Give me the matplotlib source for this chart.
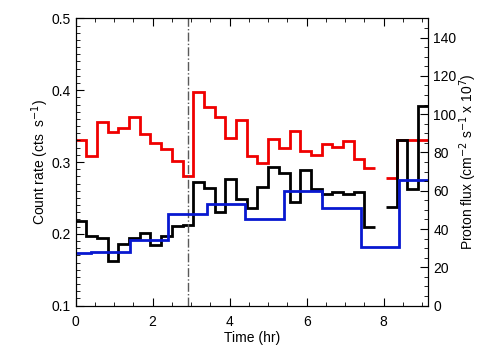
import numpy as np
import matplotlib.pyplot as plt
from matplotlib.ticker import MultipleLocator

plt.rcParams['font.family'] = ['Liberation Sans', 'DejaVu Sans']

# 1000 s bins for the count rates
bin_hr = 1000.0 / 3600.0
rate_edges = np.arange(34) * bin_hr

red_rate = [0.330, 0.308, 0.356, 0.342, 0.347, 0.363, 0.339, 0.327, 0.318, 0.301,
            0.280, 0.397, 0.376, 0.362, 0.333, 0.358, 0.308, 0.298, 0.332, 0.319,
            0.343, 0.315, 0.310, 0.325, 0.321, 0.329, 0.304, 0.291, np.nan, 0.278,
            0.330, 0.330, 0.330]

black_rate = [0.2185, 0.197, 0.1935, 0.1615, 0.1865, 0.1944, 0.2014, 0.1847, 0.1967, 0.2115,
              0.212, 0.2717, 0.2633, 0.231, 0.2768, 0.2486, 0.2365, 0.2647, 0.2925, 0.2847,
              0.2444, 0.2883, 0.262, 0.2559, 0.2578, 0.255, 0.2578, 0.2092, np.nan, 0.237,
              0.331, 0.2625, 0.378]

# hourly proton flux
flux_edges = [0.0, 0.4, 1.4, 2.4, 3.4, 4.4, 5.4, 6.4, 7.4, 8.4, 9.16]
proton_flux = [27.3, 27.9, 34.4, 47.9, 53.2, 45.3, 59.8, 51.0, 30.4, 65.4]

event_time = 2.91

fig = plt.figure(figsize=(5.04, 3.6), dpi=100)
ax = fig.add_axes([0.150, 0.151, 0.700, 0.798])
ax2 = ax.twinx()

ax.stairs(red_rate, rate_edges, baseline=None, color='#f00000', lw=2)
ax.stairs(black_rate, rate_edges, baseline=None, color='black', lw=2)
ax2.stairs(proton_flux, flux_edges, baseline=None, color='#0818d0', lw=2)
ax.axvline(event_time, color='0.35', ls='-.', lw=1)

ax.set_xlim(0, 9.16)
ax.set_ylim(0.1, 0.5)
ax2.set_ylim(0, 150)

ax.xaxis.set_major_locator(MultipleLocator(2))
ax.xaxis.set_minor_locator(MultipleLocator(0.5))
ax.yaxis.set_major_locator(MultipleLocator(0.1))
ax.yaxis.set_minor_locator(MultipleLocator(0.01))
ax2.yaxis.set_major_locator(MultipleLocator(20))
ax2.yaxis.set_minor_locator(MultipleLocator(5))

ax.tick_params(which='both', direction='in', top=True, right=False, labelsize=10)
ax.tick_params(which='major', length=6, width=0.8)
ax.tick_params(which='minor', length=3, width=0.6)
ax.tick_params(axis='x', which='major', pad=7)
ax2.tick_params(which='both', direction='in', labelsize=10)
ax2.tick_params(which='major', length=6, width=0.8)
ax2.tick_params(which='minor', length=3, width=0.6)
ax.set_yticks([0.1, 0.2, 0.3, 0.4, 0.5], ['0.1', '0.2', '0.3', '0.4', '0.5'])

ax.set_xlabel('Time (hr)', fontsize=10, labelpad=1)
ax.set_ylabel('Count rate (cts  s$^{-1}$)', fontsize=10, labelpad=0)
ax2.set_ylabel('Proton flux (cm$^{-2}$ s$^{-1}$ x 10$^{7}$)', fontsize=10, labelpad=1)

fig.savefig('out.png', dpi=100)
